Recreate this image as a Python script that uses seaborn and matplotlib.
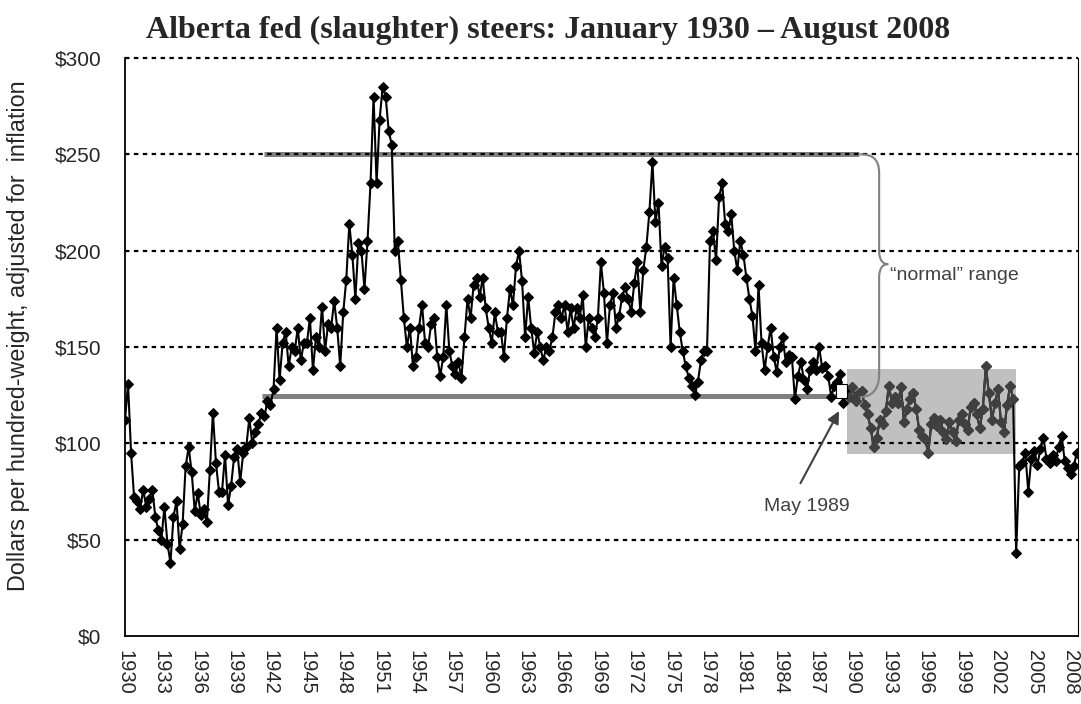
import numpy as np
import pandas as pd
import matplotlib
matplotlib.use("Agg")
import matplotlib.pyplot as plt
import seaborn as sns
from matplotlib.path import Path
from matplotlib.patches import PathPatch, Rectangle

# prix trimestriels (Jan, Avr, Juil, Oct), $ constants par cwt
years = list(range(1930, 2009))
price_q = [
    [112, 131, 95, 72], [70, 66, 76, 67], [71, 76, 62, 55], [50, 67, 48, 38],
    [62, 70, 45, 58], [88, 98, 85, 65], [74, 63, 66, 59], [86, 116, 90, 75],
    [75, 94, 68, 78], [93, 97, 80, 95], [98, 113, 100, 106], [110, 116, 114, 122],
    [120, 128, 160, 133], [152, 158, 140, 150], [148, 160, 143, 152], [152, 165, 138, 155],
    [150, 171, 148, 162], [160, 174, 160, 140], [168, 185, 214, 198], [175, 204, 200, 180],
    [205, 235, 280, 235], [268, 285, 280, 262], [255, 200, 205, 185], [165, 150, 160, 140],
    [145, 160, 172, 152], [150, 162, 165, 145], [135, 145, 172, 148], [140, 136, 142, 134],
    [155, 175, 165, 182], [186, 176, 186, 170], [160, 152, 168, 158], [158, 145, 165, 180],
    [172, 192, 200, 184], [155, 176, 160, 147], [158, 150, 143, 150], [148, 155, 168, 172],
    [165, 172, 158, 170], [160, 170, 165, 177], [150, 165, 160, 155], [165, 194, 178, 152],
    [172, 178, 160, 166], [176, 181, 175, 168], [183, 194, 168, 190], [202, 220, 246, 215],
    [225, 192, 202, 196], [150, 186, 172, 158], [148, 140, 134, 130], [125, 132, 143, 148],
    [148, 205, 210, 195], [228, 235, 214, 210], [219, 200, 190, 205], [198, 186, 175, 166],
    [148, 182, 152, 138], [150, 160, 145, 137], [150, 155, 142, 146], [145, 123, 135, 142],
    [133, 128, 138, 142], [138, 150, 139, 140], [135, 124, 130, 132], [136, 121, 128, 124],
    [129, 122, 126, 127], [120, 115, 108, 98], [103, 112, 110, 117], [130, 121, 124, 121],
    [129, 111, 118, 123], [126, 118, 107, 104], [102, 95, 110, 113], [109, 112, 106, 102],
    [111, 106, 101, 112], [115, 110, 107, 119], [121, 115, 108, 118], [140, 126, 112, 121],
    [128, 111, 106, 120], [130, 123, 43, 88], [90, 95, 75, 92], [96, 89, 97, 103],
    [92, 90, 94, 91], [98, 104, 91, 87], [84, 88, 95],
]

normal_low = 124.5
normal_high = 250
recent_box = (1989.55, 2003.45, 94.5, 138.6)
tick_years = list(range(1930, 2009, 3))
y_ticks = [0, 50, 100, 150, 200, 250, 300]

rows = []
for yr, vals in zip(years, price_q):
    for q, v in enumerate(vals):
        rows.append({"t": yr + q * 0.25, "price": v})
df = pd.DataFrame(rows)

sns.set_style("white")
plt.rcParams["font.family"] = ["Liberation Sans", "DejaVu Sans"]

fig = plt.figure(figsize=(10.81, 7.04), dpi=100)
ax = fig.add_axes([125 / 1081, 1 - 636 / 704, 953 / 1081, 578 / 704])

# zone grise 1989-2003
ax.add_patch(Rectangle((recent_box[0], recent_box[2]), recent_box[1] - recent_box[0],
                       recent_box[3] - recent_box[2], facecolor="#c0c0c0",
                       edgecolor="none", zorder=0.5))

# plage "normale"
ax.plot([1941.5, 1990.55], [normal_high, normal_high], color="#808080", lw=3.6,
        solid_capstyle="butt", zorder=0.8)
ax.plot([1941.3, 1989.7], [normal_low, normal_low], color="#808080", lw=3.6,
        solid_capstyle="butt", zorder=0.8)

for yv in y_ticks[1:]:
    ax.axhline(yv, color="black", lw=1.6, ls=(0, (2, 2)), zorder=1, clip_on=False)

sns.lineplot(data=df, x="t", y="price", ax=ax, color="black", lw=1.5,
             marker="D", markersize=5.2, markeredgecolor="black",
             markerfacecolor="black", zorder=3)
inside = df[(df["t"] >= recent_box[0]) & (df["t"] <= recent_box[1])]
sns.lineplot(data=inside, x="t", y="price", ax=ax, color="#404040", lw=1.5,
             marker="D", markersize=5.2, markeredgecolor="#404040",
             markerfacecolor="#404040", zorder=3.5)

# accolade
verts = [(1990.6, 250), (1991.6, 250), (1992.2, 248), (1992.2, 240),
         (1992.2, 200),
         (1992.2, 195), (1992.5, 193), (1992.95, 193),
         (1992.5, 193), (1992.2, 191), (1992.2, 186),
         (1992.2, 136),
         (1992.2, 128), (1991.6, 124), (1990.6, 124)]
codes = [Path.MOVETO, Path.CURVE4, Path.CURVE4, Path.CURVE4,
         Path.LINETO,
         Path.CURVE4, Path.CURVE4, Path.CURVE4,
         Path.CURVE4, Path.CURVE4, Path.CURVE4,
         Path.LINETO,
         Path.CURVE4, Path.CURVE4, Path.CURVE4]
ax.add_patch(PathPatch(Path(verts, codes), facecolor="none", edgecolor="#808080",
                       lw=1.5, zorder=4))
ax.text(1993.1, 187, "\u201cnormal\u201d range", fontsize=14, color="#404040",
        ha="left", va="center", zorder=5)

# petit cadre blanc + fleche mai 1989
ax.add_patch(Rectangle((1988.6, 123.5), 0.95, 7.5, facecolor="white",
                       edgecolor="black", lw=0.8, zorder=4))
ax.annotate("", xy=(1989.0, 118), xytext=(1985.6, 78),
            arrowprops=dict(arrowstyle="-|>", color="#404040", lw=1.5,
                            mutation_scale=18), zorder=5)
ax.text(1986.2, 67, "May 1989", fontsize=14, color="#404040", ha="center",
        va="center", zorder=5)

ax.set_xlim(1930, 2008.6)
ax.set_ylim(0, 300)
ax.set_xticks(tick_years)
ax.set_xticklabels([str(y) for y in tick_years], rotation=270, fontsize=14.5)
ax.set_yticks(y_ticks)
ax.set_yticklabels([f"${v}" for v in y_ticks], fontsize=15)
ax.tick_params(axis="both", direction="out", length=7, width=1, color="black")
ax.tick_params(axis="y", pad=10)
ax.tick_params(axis="x", pad=3)
ax.set_xlabel("")
ax.set_ylabel("Dollars per hundred-weight, adjusted for  inflation", fontsize=16.8)
ax.yaxis.set_label_coords(-0.1, 0.52)

for side in ["left", "bottom"]:
    ax.spines[side].set_color("black")
    ax.spines[side].set_linewidth(1.3)
ax.spines["right"].set_color("black")
ax.spines["right"].set_linewidth(0.8)
ax.spines["top"].set_visible(False)

fig.text(548 / 1081, 1 - 30 / 704,
         "Alberta fed (slaughter) steers: January 1930 \u2013 August 2008",
         ha="center", va="center", fontsize=23, fontweight="bold",
         family=["Liberation Serif", "DejaVu Serif"])

fig.savefig("out.png", dpi=100)
